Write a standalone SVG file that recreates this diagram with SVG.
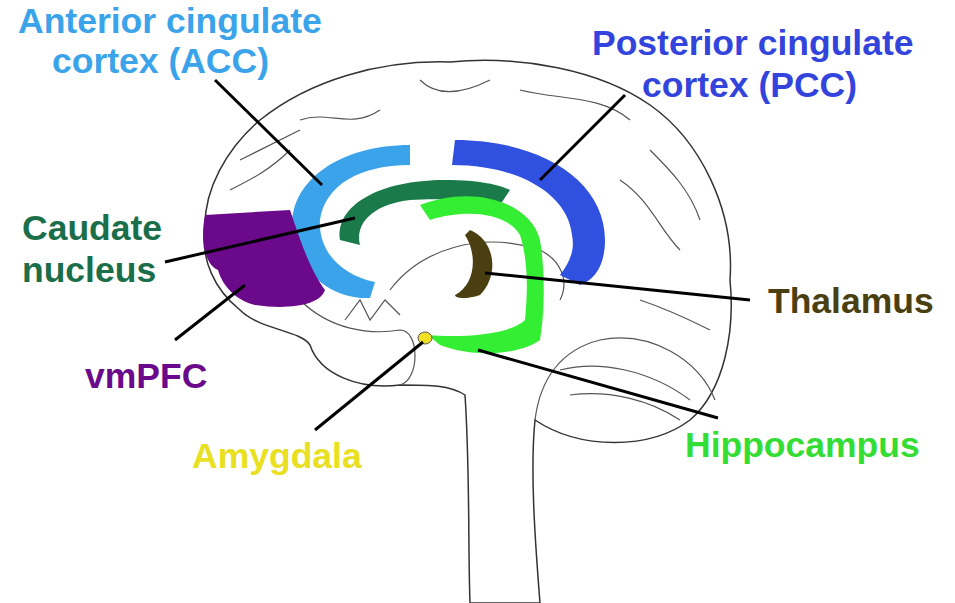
<svg xmlns="http://www.w3.org/2000/svg" width="955" height="603" viewBox="0 0 955 603">
<style>
.o{fill:#fff;stroke:#333;stroke-width:1.5}
.g{fill:none;stroke:#555;stroke-width:1.2}
.l{stroke:#000;stroke-width:3;fill:none}
text{font-family:"Liberation Sans",Arial,sans-serif;font-weight:bold;font-size:35.5px}
</style>
<rect width="955" height="603" fill="#fff"/>
<g id="brain">
<path class="o" d="M465,395 C470,470 468,550 470,603 L540,603 C535,540 530,470 535,420 C580,450 650,450 690,420 C725,390 735,330 730,280 C735,210 700,140 650,105 C600,70 520,55 450,62 C380,60 310,80 260,120 C225,150 205,190 205,225 C200,260 215,290 240,310 C260,330 300,330 310,345 C320,375 360,390 400,385 C430,385 450,385 465,395 Z"/>
<path class="g" d="M535,420 C540,380 560,350 600,340 C650,330 700,360 715,400"/>
<path class="g" d="M560,370 C600,360 650,370 690,400 M570,395 C610,390 650,400 680,420"/>
<path class="g" d="M300,300 C330,330 370,335 400,330 C420,330 420,380 400,385"/>
<path class="g" d="M345,320 L360,300 L370,320 L385,300 L400,315"/>
<path class="g" d="M300,120 C330,110 350,130 380,110 M420,80 C440,100 470,90 490,80 M520,90 C560,100 600,95 630,120 M650,150 C670,170 690,190 700,220 M230,190 C250,180 270,170 290,150 M240,160 C260,150 280,140 300,130 M620,180 C650,200 660,230 680,250 M640,300 C670,310 690,320 710,330"/>
<path class="g" d="M390,290 C420,250 480,230 540,250 C560,260 570,280 560,300"/>
</g>
<g id="acc"><path d="M410,145 L410,165 C360,165 325,185 320,220 C318,250 340,275 375,282 L370,298 C330,300 295,270 292,225 C292,180 340,145 410,145 Z" fill="#3aa3ea"/></g>
<g id="pcc"><path d="M455,140 C540,140 605,180 605,240 C605,265 595,280 580,285 L560,275 C570,262 575,250 572,235 C568,195 520,165 452,165 Z" fill="#3050e0"/></g>
<g id="caudate"><path d="M340,240 C335,205 380,180 445,180 C480,180 500,185 510,190 L500,205 C480,200 440,198 410,200 C370,205 355,225 360,245 Z" fill="#1a7a4a"/></g>
<g id="hippocampus"><path d="M420,205 C470,185 530,200 540,240 C545,270 545,310 540,340 C525,352 480,360 440,345 L428,335 C460,338 510,335 525,320 C528,290 528,260 520,235 C505,210 460,210 430,220 Z" fill="#33ee33"/></g>
<g id="thalamus"><path d="M470,230 C495,240 500,275 480,295 C465,300 455,298 455,295 C475,285 478,255 465,235 Z" fill="#4a3f10"/></g>
<g id="vmpfc"><path d="M205,215 L290,210 C300,240 310,270 325,290 C320,305 290,310 255,305 C235,300 222,285 218,270 C205,265 200,240 205,215 Z" fill="#6a0a8a"/></g>
<g id="amygdala"><ellipse cx="425" cy="338" rx="7" ry="6" fill="#f0e020" stroke="#555"/></g>
<g id="connectors">
<line class="l" x1="215" y1="80" x2="322" y2="185"/>
<line class="l" x1="625" y1="95" x2="540" y2="180"/>
<line class="l" x1="165" y1="262" x2="355" y2="218"/>
<line class="l" x1="175" y1="340" x2="245" y2="285"/>
<line class="l" x1="315" y1="430" x2="423" y2="342"/>
<line class="l" x1="718" y1="418" x2="478" y2="350"/>
<line class="l" x1="750" y1="300" x2="485" y2="273"/>
</g>
<g id="labels">
<text x="18" y="33" fill="#3aa3ea">Anterior cingulate</text>
<text x="52" y="73" fill="#3aa3ea">cortex (ACC)</text>
<text x="592" y="55" fill="#3344dd">Posterior cingulate</text>
<text x="642" y="97" fill="#3344dd">cortex (PCC)</text>
<text x="22" y="240" fill="#1a6e4a">Caudate</text>
<text x="22" y="282" fill="#1a6e4a">nucleus</text>
<text x="85" y="388" fill="#6a0a8a">vmPFC</text>
<text x="192" y="468" fill="#e8e020">Amygdala</text>
<text x="685" y="457" fill="#33dd33">Hippocampus</text>
<text x="768" y="313" fill="#4a3f10">Thalamus</text>
</g>
</svg>
